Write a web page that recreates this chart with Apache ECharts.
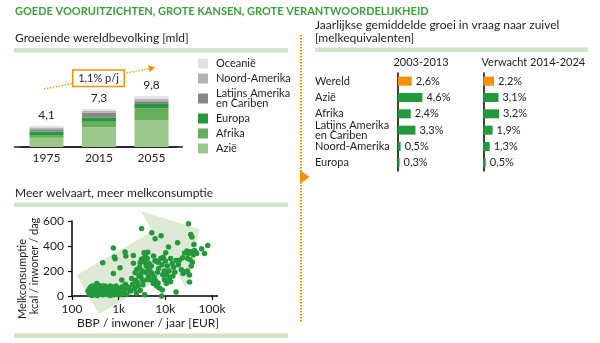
<!DOCTYPE html>
<html>
<head>
<meta charset="utf-8">
<script src="https://cdn.jsdelivr.net/npm/echarts@6/dist/echarts.min.js"></script>
<style>
html,body{margin:0;padding:0;background:#fff;}
#chart{width:600px;height:343px;}
</style>
</head>
<body>
<div id="chart"></div>
<script>
// ---------- data: population (billions) ----------
const popYears = ['1975', '2015', '2055'];
const popTotals = [4.1, 7.3, 9.8];
const popAzie = [1.8, 3.8, 5.1];
const popAfrika = [0.5, 1.07, 2.35];
const popEuropa = [0.7, 0.75, 0.8];
const popLatAm = [0.4, 1.0, 0.55];
const popNoordAm = [0.35, 0.32, 0.46];
const popOceanie = [0.35, 0.36, 0.54];
const popRegionNames = ['Azië', 'Afrika', 'Europa', 'Latijns Amerika en Cariben', 'Noord-Amerika', 'Oceanië'];

// ---------- data: annual growth in dairy demand (%) ----------
const growthRegions = ['Wereld', 'Azië', 'Afrika', 'Latijns Amerika en Cariben', 'Noord-Amerika', 'Europa'];
const growth2003_2013 = [2.6, 4.6, 2.4, 3.3, 0.5, 0.3];
const growth2014_2024 = [2.2, 3.1, 3.2, 1.9, 1.3, 0.5];
const growthHeaders = ['2003-2013', 'Verwacht 2014-2024'];

// ---------- data: GDP per capita (EUR) vs milk consumption (kcal / person / day) ----------
const welvaartPoints = [
  [220,40],[235,15],[240,60],[250,30],[255,75],[265,5],[270,45],[275,80],[285,20],[290,65],
  [295,35],[300,70],[310,10],[315,50],[320,75],[330,25],[335,60],[345,40],[350,5],[360,60],
  [365,80],[375,20],[380,85],[390,45],[400,70],[410,15],[420,75],[430,35],[440,55],[455,10],
  [460,80],[470,40],[490,25],[500,65],[510,80],[530,15],[545,50],[560,30],[575,70],[590,10],
  [600,45],[620,65],[640,25],[650,80],[670,5],[690,40],[700,75],[720,20],[740,55],[760,35],
  [780,70],[800,10],[820,60],[840,30],[860,45],[880,80],[900,15],[930,50],[960,25],[990,65],
  [1020,35],[1060,10],[1100,55],[1150,30],[1200,75],[1250,20],[1320,45],[1400,95],[1480,15],[1550,60],
  [770,385],[810,312],[840,298],[455,266],[770,181],[1165,128],[1070,227],[1370,352],[1420,320],[340,100],
  [2070,325],[2070,262],[3100,540],[3100,294],[2880,266],[3500,346],[2450,213],[2250,186],[1900,140],[2300,125],
  [2700,160],[3300,120],[3000,150],[1650,70],[1800,40],[2000,95],[2200,60],[2400,25],[2600,80],[2900,45],
  [3300,90],[3600,10],[3400,300],[3700,330],[3600,270],[3900,240],[4100,300],[4300,220],[4500,260],[4700,200],
  [5000,240],[5200,180],[4400,160],[4000,130],[3800,190],[4800,130],[5500,100],[5800,150],[6200,120],[6500,80],
  [7000,105],[7500,65],[6000,280],[6500,280],[7000,270],[5120,506],[6050,458],[8100,482],[8000,300],[8500,250],
  [9000,310],[9500,200],[8800,170],[8300,0],[8600,48],[7200,220],[6800,190],[3200,200],[2800,230],[5600,320],
  [4200,350],[3000,180],[2500,110],
  [10200,347],[11700,392],[10000,280],[11000,240],[12000,200],[12500,150],[10500,170],[13000,300],[14000,260],[15000,230],
  [16000,190],[14500,160],[17000,285],[18300,426],[17000,32],[20000,286],[23500,307],[19000,250],[22000,210],[24000,180],
  [27000,195],[30000,200],[33000,168],[33000,112],[26000,345],[29000,360],[31000,340],[35000,355],[38000,345],[42000,365],
  [45000,350],[40000,330],[47000,340],[31300,578],[35000,493],[37000,472],[41000,413],[81000,405],[60000,378],[69000,341],
  [30000,300],[34000,290],[36000,240],[38000,270],[12000,130],[9500,130],[10500,100],[13000,115]
];
// background arrow outline, in axis units (GDP EUR, kcal)
const arrowGdp = [126, 5370, 2980, 54000, 27900, 16500, 380];
const arrowKcal = [168, 518, 680, 534, 62, 208, -144];
const xTickLabels = {100: '100', 1000: '1k', 10000: '10k', 100000: '100k'};

// ---------- styling ----------
const FONT = 'Lato, "Noto Sans", sans-serif';
const TXT = '#1d1d1b';
const ORANGE = '#f39200';
const GREEN = '#24993c';
const SEP = '#d0e3c7';
const popColors = ['#9cc88c', '#66ad5e', '#249a3d', '#878787', '#b3b3b3', '#e2e2e2'];
const popData = [popAzie, popAfrika, popEuropa, popLatAm, popNoordAm, popOceanie];
const fmtComma = v => v.toFixed(1).replace('.', ',');

const chart = echarts.init(document.getElementById('chart'), null, {renderer: 'canvas'});

function txt(x, y, text, opts) {
  opts = opts || {};
  const align = opts.align || 'left';
  return {
    type: 'text', x: x, y: y, rotation: opts.rotation || 0, z: 10,
    style: {
      text: text,
      font: (opts.weight || 'normal') + ' ' + (opts.size || 12) + 'px ' + FONT,
      fill: opts.color || TXT,
      align: align, verticalAlign: 'middle',
      textAlign: align, textVerticalAlign: 'middle'
    }
  };
}

const popSeries = popRegionNames.map((name, k) => ({
  name: name, type: 'bar', stack: 'pop', xAxisIndex: 0, yAxisIndex: 0,
  barWidth: 34, itemStyle: {color: popColors[k]},
  data: popData[k],
  label: k === popRegionNames.length - 1 ? {
    show: true, position: 'top', distance: 5, fontFamily: FONT, fontSize: 12, color: TXT,
    formatter: p => fmtComma(popTotals[p.dataIndex])
  } : {show: false}
}));

const growthLabel = {
  show: true, position: 'right', distance: 4, fontFamily: FONT, fontSize: 11, color: TXT,
  formatter: p => fmtComma(p.value) + '%'
};
const growthColor = p => (p.dataIndex === 0 ? ORANGE : GREEN);

// arrow annotation geometry in the population panel (decoration)
const annStart = [44, 89], annEnd = [149, 68.6];

const option = {
  animation: false,
  textStyle: {fontFamily: FONT},
  grid: [
    {left: 20.25, top: 84.6, width: 157.5, height: 62.4},
    {left: 398, top: 73, width: 53, height: 98},
    {left: 483.3, top: 73, width: 49, height: 98},
    {left: 72, top: 221, width: 140, height: 75}
  ],
  xAxis: [
    {gridIndex: 0, type: 'category', data: popYears,
      axisLine: {show: true, lineStyle: {color: TXT, width: 1.5}},
      axisTick: {show: false}, splitLine: {show: false},
      axisLabel: {margin: 5, fontSize: 12, color: TXT, fontFamily: FONT}},
    {gridIndex: 1, type: 'value', min: 0, max: 10, show: false},
    {gridIndex: 2, type: 'value', min: 0, max: 10, show: false},
    {gridIndex: 3, type: 'log', logBase: 10, min: 100, max: 100000, z: 2,
      axisLine: {show: true, onZero: false, lineStyle: {color: '#000', width: 1.5}},
      axisTick: {show: true, length: 4, lineStyle: {color: '#000', width: 1.2}},
      splitLine: {show: false}, minorTick: {show: false},
      axisLabel: {margin: 7, fontSize: 12, color: TXT, fontFamily: FONT,
        formatter: v => xTickLabels[Math.round(v)] || ''}}
  ],
  yAxis: [
    {gridIndex: 0, type: 'value', min: 0, max: 12, show: false},
    {gridIndex: 1, type: 'category', inverse: true, data: growthRegions,
      axisLine: {show: true, lineStyle: {color: '#000', width: 1.5}},
      axisTick: {show: false}, splitLine: {show: false},
      axisLabel: {align: 'left', margin: 83, fontSize: 11, lineHeight: 10, color: TXT, fontFamily: FONT,
        formatter: v => (v === 'Latijns Amerika en Cariben' ? 'Latijns Amerika\nen Cariben' : v)}},
    {gridIndex: 2, type: 'category', inverse: true, data: growthRegions,
      axisLine: {show: true, lineStyle: {color: '#000', width: 1.5}},
      axisTick: {show: false}, splitLine: {show: false}, axisLabel: {show: false}},
    {gridIndex: 3, type: 'value', min: 0, max: 600, interval: 200, z: 2,
      axisLine: {show: true, onZero: false, lineStyle: {color: '#000', width: 1.5}},
      axisTick: {show: true, length: 4, lineStyle: {color: '#000', width: 1.2}},
      splitLine: {show: false},
      axisLabel: {margin: 8, fontSize: 12, color: TXT, fontFamily: FONT}}
  ],
  legend: {
    data: ['Oceanië', 'Noord-Amerika', 'Latijns Amerika en Cariben', 'Europa', 'Afrika', 'Azië'],
    orient: 'vertical', left: 198, top: 58, itemWidth: 10, itemHeight: 10, itemGap: 4,
    icon: 'rect', selectedMode: false, padding: 0,
    textStyle: {fontSize: 11, lineHeight: 10, color: TXT, fontFamily: FONT, padding: [0, 0, 0, 3]},
    formatter: n => (n === 'Latijns Amerika en Cariben' ? 'Latijns Amerika\nen Cariben' : n)
  },
  series: popSeries.concat([
    {type: 'bar', xAxisIndex: 1, yAxisIndex: 1, barWidth: 9, data: growth2003_2013,
      itemStyle: {color: growthColor}, label: growthLabel},
    {type: 'bar', xAxisIndex: 2, yAxisIndex: 2, barWidth: 9, data: growth2014_2024,
      itemStyle: {color: growthColor}, label: growthLabel},
    {type: 'custom', xAxisIndex: 3, yAxisIndex: 3, z: 1, clip: false, silent: true,
      data: [[1000, 100]],
      renderItem: (params, api) => ({
        type: 'polygon',
        shape: {points: arrowGdp.map((g, i) => api.coord([g, arrowKcal[i]]))},
        style: {fill: '#dde9d5'}
      })},
    {type: 'scatter', xAxisIndex: 3, yAxisIndex: 3, z: 3, symbolSize: 5.5,
      itemStyle: {color: GREEN, opacity: 1}, data: welvaartPoints}
  ]),
  graphic: [
    txt(15, 11, 'GOEDE VOORUITZICHTEN, GROTE KANSEN, GROTE VERANTWOORDELIJKHEID',
      {weight: 'bold', size: 11, color: '#3d9f3a'}),
    txt(15, 38, 'Groeiende wereldbevolking [mld]', {size: 12}),
    {type: 'rect', shape: {x: 14, y: 48, width: 274, height: 4.5}, style: {fill: SEP}},
    // full-width baseline under the population bars
    {type: 'line', shape: {x1: 14, y1: 147, x2: 183, y2: 147}, style: {stroke: TXT, lineWidth: 1.5}},
    // short run-out of the scatter x axis past the last tick
    {type: 'line', shape: {x1: 211, y1: 296, x2: 218, y2: 296}, style: {stroke: '#000', lineWidth: 1.5}},
    txt(315, 25, 'Jaarlijkse gemiddelde groei in vraag naar zuivel', {size: 12}),
    txt(315, 38, '[melkequivalenten]', {size: 12}),
    {type: 'rect', shape: {x: 315, y: 47.5, width: 273, height: 4.5}, style: {fill: SEP}},
    txt(421, 62, growthHeaders[0], {size: 11, align: 'center'}),
    txt(481.5, 62, growthHeaders[1], {size: 11}),
    txt(15, 193, 'Meer welvaart, meer melkconsumptie', {size: 12}),
    {type: 'rect', shape: {x: 14, y: 202.5, width: 274, height: 4.5}, style: {fill: SEP}},
    {type: 'rect', shape: {x: 14, y: 333.5, width: 274, height: 4.5}, style: {fill: SEP}},
    txt(22, 279, 'Melkconsumptie', {size: 11, align: 'center', rotation: Math.PI / 2}),
    txt(34.5, 266, 'kcal / inwoner / dag', {size: 11, align: 'center', rotation: Math.PI / 2}),
    txt(148, 323.5, 'BBP / inwoner / jaar [EUR]', {size: 12, align: 'center'}),
    // vertical dotted divider with pointer
    {type: 'line', shape: {x1: 301, y1: 35, x2: 301, y2: 322},
      style: {stroke: ORANGE, lineWidth: 2, lineDash: [1.5, 1.5]}},
    {type: 'polygon', shape: {points: [[300, 170], [309.5, 177], [300, 184]]}, style: {fill: ORANGE}},
    // growth annotation: dotted arrow + boxed label
    {type: 'line', shape: {x1: annStart[0], y1: annStart[1], x2: annEnd[0], y2: annEnd[1]},
      style: {stroke: ORANGE, lineWidth: 1.2, lineDash: [1.5, 1.5]}},
    {type: 'polygon', shape: {points: [[155.5, 67.4], [148.2, 65.3], [149.4, 72.1]]}, style: {fill: ORANGE}},
    {type: 'rect', shape: {x: 72.7, y: 70, width: 51.6, height: 16.5},
      style: {fill: '#fff', stroke: ORANGE, lineWidth: 1.5}},
    txt(98.5, 78.5, '1,1% p/j', {size: 11, align: 'center'})
  ]
};
chart.setOption(option);
</script>
</body>
</html>
